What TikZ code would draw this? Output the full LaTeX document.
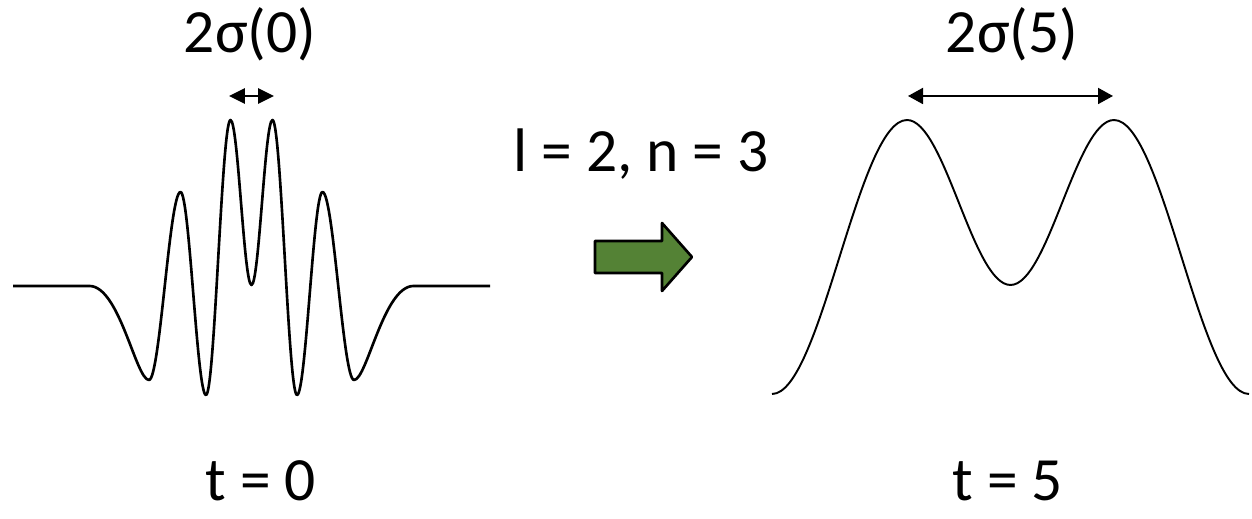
\documentclass[tikz,border=0pt]{standalone}
\usepackage{fontspec}
\setmainfont{Carlito}
\usetikzlibrary{arrows.meta}
\definecolor{arrowgreen}{RGB}{84,130,53}
\tikzset{
  widthLeft/.style={line width=1.6pt,
    {Triangle[length=0.32cm,width=0.3cm]}-{Triangle[length=0.32cm,width=0.3cm]}},
  widthRight/.style={line width=1.1pt,
    {Triangle[length=0.3cm,width=0.32cm]}-{Triangle[length=0.3cm,width=0.32cm]}},
  packet/.style={line width=1.5pt,line join=round},
}

\begin{document}
\begin{tikzpicture}[x=0.02cm,y=-0.02cm,every node/.style={font=\fontsize{35}{40}\selectfont,inner sep=0pt}]
    \useasboundingbox (0,0) rectangle (1252,519);

    \node[anchor=base] (sigmaL) at (250,53) {2σ(0)};
    \node[anchor=base] (sigmaR) at (1012,53) {2σ(5)};
    \node[anchor=base] (params) at (641,172) {l = 2, n = 3};
    \node[anchor=base] (timeL) at (261,501) {t = 0};
    \node[anchor=base] (timeR) at (1008,501) {t = 5};

    \begin{scope}[shift={(251.5,0)}]
      \draw[packet]
        (-238.5,286) -- (-162,286)
        .. controls +(30,0) and +(-13,0) .. (-102.5,380)
        .. controls +(11,0) and +(-11,0) .. (-71,192)
        .. controls +(9,0) and +(-9,0) .. (-45.5,395)
        .. controls +(8.7,0) and +(-8.7,0) .. (-21,120)
        .. controls +(7.6,0) and +(-7.6,0) .. (0,285)
        .. controls +(7.6,0) and +(-7.6,0) .. (21,120)
        .. controls +(8.7,0) and +(-8.7,0) .. (45.5,395)
        .. controls +(9,0) and +(-9,0) .. (71,192)
        .. controls +(11,0) and +(-11,0) .. (102.5,380)
        .. controls +(13,0) and +(-30,0) .. (162,286) -- (238.5,286);
      \coordinate (leftA) at (-22.5,96);
      \coordinate (leftB) at (22.5,96);
      \draw[widthLeft] (leftA) -- (leftB);
    \end{scope}

    \begin{scope}[shift={(1010.5,0)}]
      \draw[packet,line width=1.1pt]
        (-238.5,394)
        .. controls +(49,0) and +(-49,0) .. (-103.5,120)
        .. controls +(37.7,0) and +(-37.7,0) .. (0,285)
        .. controls +(37.7,0) and +(-37.7,0) .. (103.5,120)
        .. controls +(49,0) and +(-49,0) .. (238.5,394);
      \coordinate (rightA) at (-102.5,96);
      \coordinate (rightB) at (102.5,96);
      \draw[widthRight] (rightA) -- (rightB);
    \end{scope}

    \draw[packet,fill=arrowgreen]
      (595,241) -- (662,241) -- (662,223) -- (692,257)
      -- (662,291) -- (662,273) -- (595,273) -- cycle;
\end{tikzpicture}
\end{document}
